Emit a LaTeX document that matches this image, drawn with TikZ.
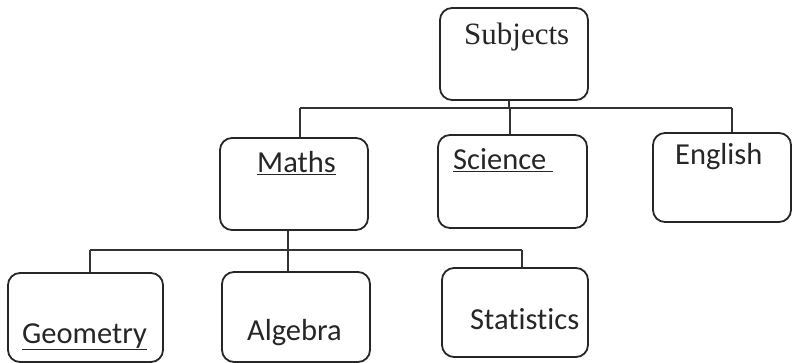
\documentclass[tikz,border=0pt]{standalone}
\usepackage{fontspec}
\setmainfont{Carlito}[Ligatures=NoCommon]
\newfontfamily\serifface{Liberation Serif}
\begin{document}
\begin{tikzpicture}[x=1pt,y=1pt,
  box/.style={draw=black!85, line width=1.8pt, rounded corners=12pt, rectangle, inner sep=0pt},
  conn/.style={draw=black!80, line width=1.6pt},
  lbl/.style={anchor=base west, inner sep=0pt, font=\fontsize{30.5}{36}\selectfont, text=black!85},
  slbl/.style={anchor=base west, inner sep=0pt, font=\serifface\fontsize{31}{36}\selectfont, text=black!85}]
\useasboundingbox (0,0) rectangle (795,-363);
% boxes
\node[box, minimum width=148pt, minimum height=92pt] (subj) at (514,-54) {};
\node[box, minimum width=148pt, minimum height=92pt] (maths) at (294,-184) {};
\node[box, minimum width=149pt, minimum height=93pt] (sci) at (512.5,-181.5) {};
\node[box, minimum width=138pt, minimum height=89pt] (eng) at (722,-177.5) {};
\node[box, minimum width=155pt, minimum height=89pt] (geo) at (85.5,-317.5) {};
\node[box, minimum width=148pt, minimum height=90pt] (alg) at (296,-317) {};
\node[box, minimum width=146pt, minimum height=89pt] (stat) at (515,-312.5) {};
% labels
\node[slbl] (tsubj) at (464,-45) {Subjects};
\node[lbl] (tmaths) at (257,-173) {\underline{Maths}};
\node[lbl] (tsci) at (453,-170) {\underline{Science\ }};
\node[lbl] (teng) at (675,-165) {English};
\node[lbl] (tgeo) at (22,-343) {\underline{Geometry}};
\node[lbl] (talg) at (247,-340) {Algebra};
\node[lbl] (tstat) at (470,-330) {Statistics};
% junctions
\coordinate (j1) at (509,-108);
\coordinate (h1l) at (300,-108);
\coordinate (h1m) at (510,-108);
\coordinate (h1r) at (732,-108);
\coordinate (j2) at (288,-250);
\coordinate (h2l) at (90,-250);
\coordinate (h2r) at (522,-250);
% connectors
\draw[conn] (subj.south -| j1) -- (j1);
\draw[conn] (h1l) -- (h1r);
\draw[conn] (h1l) -- (h1l |- maths.north);
\draw[conn] (h1m) -- (h1m |- sci.north);
\draw[conn] (h1r) -- (h1r |- eng.north);
\draw[conn] (maths.south -| j2) -- (j2);
\draw[conn] (h2l) -- (h2r);
\draw[conn] (h2l) -- (h2l |- geo.north);
\draw[conn] (j2) -- (j2 |- alg.north);
\draw[conn] (h2r) -- (h2r |- stat.north);
\end{tikzpicture}
\end{document}
